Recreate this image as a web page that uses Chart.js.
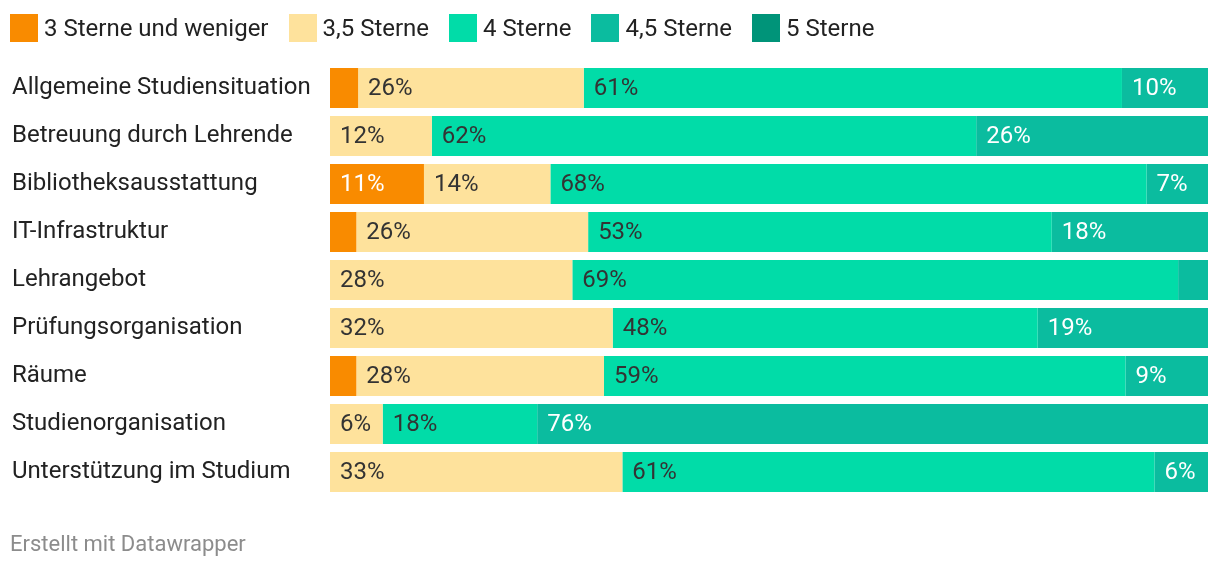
<!DOCTYPE html>
<html>
<head>
<meta charset="utf-8">
<script src="https://cdn.jsdelivr.net/npm/chart.js@4"></script>
<style>
  body { margin: 0; background: #fff; font-family: Roboto, sans-serif; }
  #wrap { position: relative; width: 1220px; height: 570px; }
  #legend { position: absolute; left: 10px; top: 14px; display: flex; align-items: center; }
  .item { display: flex; align-items: center; margin-right: 20px; font-size: 24px; color: #222; height: 28px; }
  .box { width: 28px; height: 28px; margin-right: 6px; }
  #footer { position: absolute; left: 10px; top: 531px; font-size: 22px; color: #8c8c8c; }
</style>
</head>
<body>
<div id="wrap">
  <canvas id="c" width="1220" height="570"></canvas>
  <div id="legend"></div>
  <div id="footer">Erstellt mit Datawrapper</div>
</div>
<script>
const categories = [
  'Allgemeine Studiensituation',
  'Betreuung durch Lehrende',
  'Bibliotheksausstattung',
  'IT-Infrastruktur',
  'Lehrangebot',
  'Prüfungsorganisation',
  'Räume',
  'Studienorganisation',
  'Unterstützung im Studium'
];
const seriesNames = ['3 Sterne und weniger', '3,5 Sterne', '4 Sterne', '4,5 Sterne', '5 Sterne'];
const star3 = [3.2, 0, 10.7, 3, 0, 0, 3, 0, 0];
const star35 = [25.7, 11.6, 14.4, 26.4, 27.6, 32.2, 28.2, 6, 33.3];
const star4 = [61.3, 62, 67.9, 52.8, 69, 48.4, 59.4, 17.6, 60.6];
const star45 = [9.8, 26.4, 7, 17.8, 3.4, 19.4, 9.4, 76.4, 6.1];
const star5 = [0, 0, 0, 0, 0, 0, 0, 0, 0];

const colors = ['#f98b00', '#fee29c', '#01dca8', '#0bbc9f', '#009479'];
const labelColors = ['#ffffff', '#333333', '#333333', '#ffffff', '#ffffff'];
const allSeries = [star3, star35, star4, star45, star5];

// percentage labels inside the segments
const segmentLabels = {
  id: 'segmentLabels',
  afterDatasetsDraw(chart) {
    const ctx = chart.ctx;
    ctx.save();
    ctx.font = '24px Roboto';
    ctx.textBaseline = 'middle';
    ctx.textAlign = 'left';
    chart.data.datasets.forEach((ds, i) => {
      const meta = chart.getDatasetMeta(i);
      meta.data.forEach((bar, j) => {
        const v = ds.data[j];
        if (v < 5) return;
        ctx.fillStyle = labelColors[i];
        ctx.fillText(Math.round(v) + '%', Math.min(bar.base, bar.x) + 10, bar.y + 1);
      });
    });
    ctx.restore();
  }
};

const chart = new Chart(document.getElementById('c'), {
  type: 'bar',
  data: {
    labels: categories,
    datasets: allSeries.map((d, i) => ({
      label: seriesNames[i],
      data: d,
      backgroundColor: colors[i],
      borderWidth: 0,
      categoryPercentage: 1,
      barPercentage: 40 / 48
    }))
  },
  options: {
    indexAxis: 'y',
    responsive: false,
    animation: false,
    layout: { padding: { left: 12, right: 12, top: 64, bottom: 74 } },
    plugins: {
      legend: { display: false },
      tooltip: { enabled: false }
    },
    scales: {
      x: { stacked: true, min: 0, max: 100, display: false },
      y: {
        stacked: true,
        grid: { display: false },
        border: { display: false },
        afterFit(scale) { scale.width = 318; },
        ticks: {
          crossAlign: 'far',
          padding: 0,
          color: '#222',
          font: { family: 'Roboto', size: 24 }
        }
      }
    }
  },
  plugins: [segmentLabels]
});

// legend built from the datasets
const legend = document.getElementById('legend');
chart.data.datasets.forEach(ds => {
  const item = document.createElement('div');
  item.className = 'item';
  const box = document.createElement('span');
  box.className = 'box';
  box.style.background = ds.backgroundColor;
  item.appendChild(box);
  item.appendChild(document.createTextNode(ds.label));
  legend.appendChild(item);
});
</script>
</body>
</html>
